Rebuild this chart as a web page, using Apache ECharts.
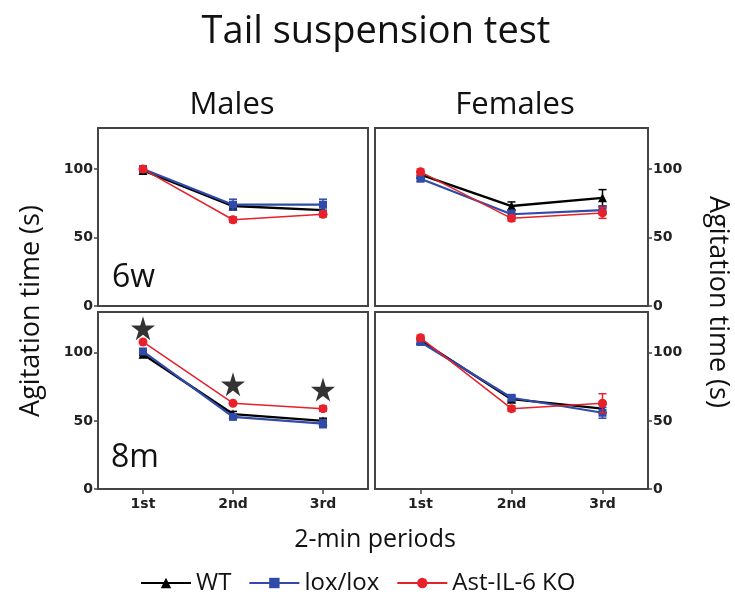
<!DOCTYPE html>
<html>
<head>
<meta charset="utf-8">
<script src="https://cdn.jsdelivr.net/npm/echarts@6/dist/echarts.min.js"></script>
<style>
  html, body { margin: 0; padding: 0; background: #fff; }
  #main { width: 735px; height: 602px; }
</style>
</head>
<body>
<div id="main"></div>
<script>
const periods = ['1st', '2nd', '3rd'];
const groups = ['WT', 'lox/lox', 'Ast-IL-6 KO'];

// means per panel: [WT, lox/lox, KO]
const males6w = [[99, 73, 70], [100, 74, 74], [100, 63, 67]];
const females6w = [[96, 73, 79], [93, 67, 70], [98, 64, 68]];
const males8m = [[99, 55, 50], [101, 53, 48], [108, 63, 59]];
const females8m = [[109, 66, 59], [108, 67, 56], [111, 59, 63]];

// SEM per panel
const males6wErr = [[1, 2, 2], [1, 4, 4], [1, 2, 2]];
const females6wErr = [[2, 3, 6], [2, 3, 3], [2, 2, 4]];
const males8mErr = [[1, 2, 2], [2, 2, 3], [1, 1, 2]];
const females8mErr = [[2, 2, 3], [2, 2, 4], [2, 2, 7]];

// significance stars (males 8m)
const starY = [118, 77, 73];

const colors = ['#000000', '#2f4aa8', '#e8202a'];
const symbols = ['triangle', 'rect', 'circle'];
const widths = [2.4, 2.2, 1.5];

const panels = [
  { mean: males6w, err: males6wErr },
  { mean: females6w, err: females6wErr },
  { mean: males8m, err: males8mErr },
  { mean: females8m, err: females8mErr }
];

const grids = [
  { left: 98, top: 128, width: 270, height: 178 },
  { left: 375, top: 128, width: 273, height: 178 },
  { left: 98, top: 312, width: 270, height: 177 },
  { left: 375, top: 312, width: 273, height: 177 }
].map(g => Object.assign(g, { show: true, borderColor: '#444', borderWidth: 2 }));

const labelFont = { fontFamily: 'DejaVu Sans', fontWeight: 'bold', fontSize: 14, color: '#222' };

const xAxis = grids.map((g, i) => ({
  type: 'category',
  gridIndex: i,
  data: periods,
  boundaryGap: true,
  axisLine: { lineStyle: { color: '#444', width: 2 } },
  axisTick: { show: i >= 2, alignWithLabel: true, length: 5, lineStyle: { color: '#444', width: 1.5 } },
  axisLabel: Object.assign({ show: i >= 2, margin: 8 }, labelFont)
}));

const yAxis = grids.map((g, i) => ({
  type: 'value',
  gridIndex: i,
  position: i % 2 === 0 ? 'left' : 'right',
  min: 0,
  max: 130,
  interval: 50,
  splitLine: { show: false },
  axisLine: { show: true, lineStyle: { color: '#444', width: 2 } },
  axisTick: { show: true, length: 4, lineStyle: { color: '#444', width: 1.5 } },
  axisLabel: Object.assign({ showMaxLabel: false, margin: 5 }, labelFont)
}));

const series = [];
panels.forEach((p, pi) => {
  groups.forEach((name, gi) => {
    series.push({
      name,
      type: 'line',
      xAxisIndex: pi,
      yAxisIndex: pi,
      data: p.mean[gi],
      symbol: symbols[gi],
      symbolSize: gi === 1 ? 8 : 9,
      color: colors[gi],
      lineStyle: { color: colors[gi], width: widths[gi] },
      itemStyle: { color: colors[gi] },
      z: 3 + gi
    });
    series.push({
      type: 'custom',
      xAxisIndex: pi,
      yAxisIndex: pi,
      data: p.mean[gi].map((m, k) => [k, m - p.err[gi][k], m + p.err[gi][k]]),
      encode: { x: 0, y: [1, 2] },
      z: 3 + gi,
      silent: true,
      renderItem: (params, api) => {
        const x = api.value(0);
        const lo = api.coord([x, api.value(1)]);
        const hi = api.coord([x, api.value(2)]);
        const w = 4;
        const style = { stroke: colors[gi], lineWidth: 1.5 };
        return {
          type: 'group',
          children: [
            { type: 'line', shape: { x1: lo[0], y1: lo[1], x2: hi[0], y2: hi[1] }, style },
            { type: 'line', shape: { x1: lo[0] - w, y1: lo[1], x2: lo[0] + w, y2: lo[1] }, style },
            { type: 'line', shape: { x1: hi[0] - w, y1: hi[1], x2: hi[0] + w, y2: hi[1] }, style }
          ]
        };
      }
    });
  });
});

series.push({
  type: 'scatter',
  xAxisIndex: 2,
  yAxisIndex: 2,
  data: starY,
  symbol: 'path://M50,0 L61,35 L98,35 L68,57 L79,91 L50,70 L21,91 L32,57 L2,35 L39,35 Z',
  symbolSize: 24,
  itemStyle: { color: '#000' },
  silent: true,
  z: 10
});

const FONT = '"Open Sans"';
const txt = (text, x, y, size, rot) => ({
  type: 'text', x, y, rotation: rot || 0,
  style: { text, font: size + 'px ' + FONT, fill: '#111', align: 'center', verticalAlign: 'middle' }
});

const chart = echarts.init(document.getElementById('main'));
chart.setOption({
  animation: false,
  backgroundColor: '#fff',
  legend: {
    data: groups,
    top: 566,
    left: 135,
    itemWidth: 50,
    itemHeight: 13,
    itemGap: 17,
    textStyle: { fontFamily: 'Open Sans', fontSize: 24, color: '#111' }
  },
  grid: grids,
  xAxis,
  yAxis,
  series,
  graphic: [
    txt('Tail suspension test', 376, 32, 38),
    txt('Males', 232, 105, 31),
    txt('Females', 515, 105, 31),
    txt('2-min periods', 375, 540, 25),
    { type: 'text', left: 112, top: 262, style: { text: '6w', font: '32px ' + FONT, fill: '#111' } },
    { type: 'text', left: 111, top: 442, style: { text: '8m', font: '32px ' + FONT, fill: '#111' } },
    txt('Agitation time (s)', 31, 311, 27, Math.PI / 2),
    txt('Agitation time (s)', 718, 302, 27, -Math.PI / 2)
  ]
});
</script>
</body>
</html>
